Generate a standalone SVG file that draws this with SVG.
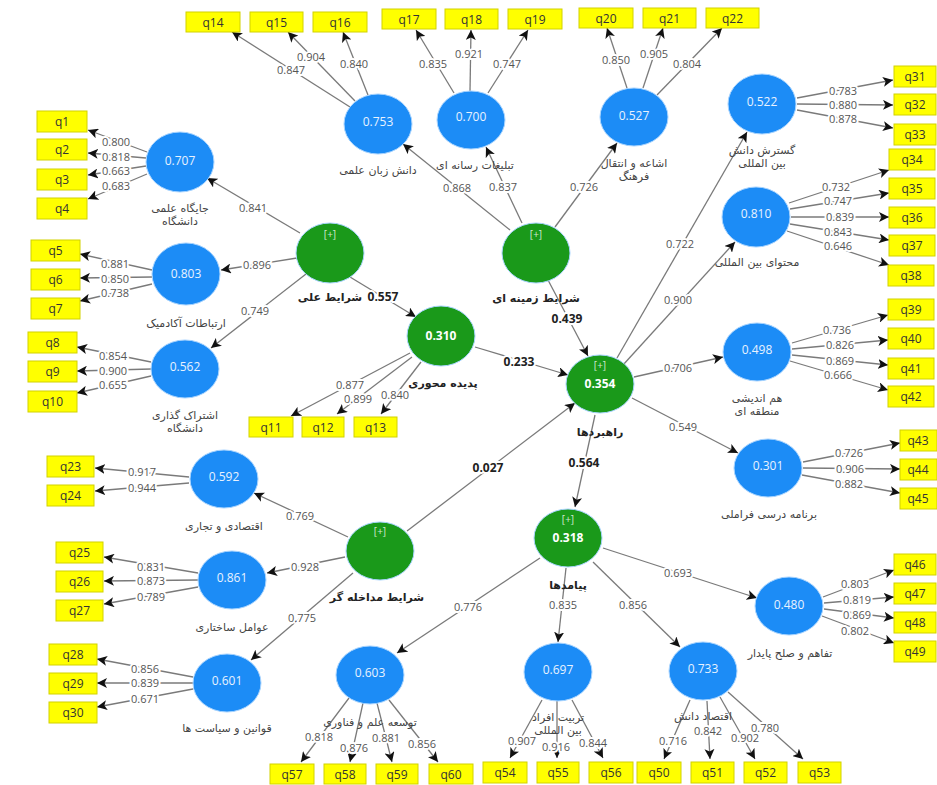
<svg xmlns="http://www.w3.org/2000/svg" width="937" height="785" viewBox="0 0 937 785">
<style>
.bg{fill:#fff}
.box{fill:#ffff00;stroke:#d2d200;stroke-width:1}
.bt{font-family:"Open Sans","DejaVu Sans",sans-serif;font-size:12px;fill:#333;text-anchor:middle;dominant-baseline:central}
.lv{fill:#1c8cf6;stroke:#a8d4ff;stroke-width:1}
.gv{fill:#1a991a;stroke:#a8d4ff;stroke-width:1}
.vt{font-family:"Open Sans","DejaVu Sans",sans-serif;font-size:12px;fill:#e8f2ff;text-anchor:middle;dominant-baseline:central}
.gt{font-family:"Open Sans","DejaVu Sans",sans-serif;font-size:12px;font-weight:bold;fill:#fff;text-anchor:middle;dominant-baseline:central}
.pl{font-family:"Open Sans","DejaVu Sans",sans-serif;font-size:10px;fill:#cfe8cf;text-anchor:middle;dominant-baseline:central}
.nm{font-family:"DejaVu Sans",sans-serif;font-size:11px;fill:#444;text-anchor:middle;dominant-baseline:central}
.nb{font-family:"DejaVu Sans",sans-serif;font-size:11px;font-weight:bold;fill:#222;text-anchor:middle;dominant-baseline:central}
.e{stroke:#7a7a7a;stroke-width:1.3;fill:none;marker-end:url(#ah)}
.lb{font-family:"Open Sans","DejaVu Sans",sans-serif;font-size:11px;fill:#555;text-anchor:middle;dominant-baseline:central;paint-order:stroke;stroke:#fff;stroke-width:4px;stroke-linejoin:round}
.sb{font-family:"Open Sans","DejaVu Sans",sans-serif;font-size:12px;font-weight:bold;fill:#222;text-anchor:middle;dominant-baseline:central;paint-order:stroke;stroke:#fff;stroke-width:4px;stroke-linejoin:round}
</style>
<defs>
<marker id="ah" markerUnits="userSpaceOnUse" markerWidth="11" markerHeight="10" refX="10" refY="5" orient="auto">
<path d="M0,0 L10,5 L0,10 L2.5,5 z" fill="#111"/>
</marker>
</defs>
<rect class="bg" x="0" y="0" width="937" height="785"/>

<g id="connectors">
<!-- structural -->
<line class="e" x1="350" y1="277" x2="416" y2="317"/>
<line class="e" x1="548" y1="280" x2="588" y2="356"/>
<line class="e" x1="475" y1="347" x2="568" y2="375"/>
<line class="e" x1="407" y1="531" x2="575" y2="403"/>
<line class="e" x1="595" y1="415" x2="575" y2="507"/>
<!-- second order -->
<line class="e" x1="300" y1="233" x2="207" y2="178"/>
<line class="e" x1="297" y1="258" x2="221" y2="270"/>
<line class="e" x1="306" y1="274" x2="211" y2="348"/>
<line class="e" x1="510" y1="230" x2="403" y2="144"/>
<line class="e" x1="522" y1="223" x2="486" y2="147"/>
<line class="e" x1="555" y1="227" x2="617" y2="143"/>
<line class="e" x1="617" y1="358" x2="747" y2="132"/>
<line class="e" x1="623" y1="365" x2="735" y2="242"/>
<line class="e" x1="634" y1="377" x2="723" y2="357"/>
<line class="e" x1="632" y1="398" x2="738" y2="453"/>
<line class="e" x1="348" y1="537" x2="254" y2="493"/>
<line class="e" x1="345" y1="557" x2="267" y2="573"/>
<line class="e" x1="353" y1="573" x2="251" y2="660"/>
<line class="e" x1="540" y1="558" x2="397" y2="653"/>
<line class="e" x1="566" y1="568" x2="558" y2="642"/>
<line class="e" x1="593" y1="562" x2="680" y2="647"/>
<line class="e" x1="603" y1="548" x2="757" y2="598"/>
<!-- loadings -->
<line class="e" x1="147" y1="152" x2="88" y2="130"/>
<line class="e" x1="146" y1="158" x2="88" y2="153"/>
<line class="e" x1="146" y1="166" x2="88" y2="175"/>
<line class="e" x1="147" y1="174" x2="88" y2="199"/>
<line class="e" x1="152" y1="270" x2="80" y2="254"/>
<line class="e" x1="152" y1="277" x2="80" y2="278"/>
<line class="e" x1="152" y1="284" x2="80" y2="301"/>
<line class="e" x1="151" y1="362" x2="77" y2="347"/>
<line class="e" x1="151" y1="369" x2="77" y2="371"/>
<line class="e" x1="151" y1="376" x2="77" y2="393"/>
<line class="e" x1="410" y1="353" x2="291" y2="416"/>
<line class="e" x1="412" y1="357" x2="337" y2="414"/>
<line class="e" x1="421" y1="362" x2="381" y2="414"/>
<line class="e" x1="350" y1="107" x2="232" y2="32"/>
<line class="e" x1="355" y1="101" x2="288" y2="32"/>
<line class="e" x1="368" y1="95" x2="343" y2="32"/>
<line class="e" x1="454" y1="93" x2="416" y2="30"/>
<line class="e" x1="470" y1="91" x2="471" y2="30"/>
<line class="e" x1="488" y1="93" x2="528" y2="30"/>
<line class="e" x1="627" y1="88" x2="607" y2="28"/>
<line class="e" x1="643" y1="88" x2="663" y2="28"/>
<line class="e" x1="657" y1="95" x2="722" y2="28"/>
<line class="e" x1="797" y1="98" x2="893" y2="80"/>
<line class="e" x1="797" y1="104" x2="893" y2="105"/>
<line class="e" x1="797" y1="110" x2="893" y2="128"/>
<line class="e" x1="789" y1="203" x2="889" y2="170"/>
<line class="e" x1="790" y1="209" x2="889" y2="193"/>
<line class="e" x1="791" y1="217" x2="889" y2="217"/>
<line class="e" x1="790" y1="224" x2="889" y2="240"/>
<line class="e" x1="787" y1="231" x2="889" y2="265"/>
<line class="e" x1="792" y1="343" x2="888" y2="315"/>
<line class="e" x1="792" y1="349" x2="888" y2="340"/>
<line class="e" x1="792" y1="355" x2="888" y2="365"/>
<line class="e" x1="790" y1="361" x2="888" y2="390"/>
<line class="e" x1="803" y1="462" x2="900" y2="443"/>
<line class="e" x1="803" y1="468" x2="900" y2="469"/>
<line class="e" x1="802" y1="475" x2="900" y2="493"/>
<line class="e" x1="823" y1="597" x2="894" y2="570"/>
<line class="e" x1="824" y1="603" x2="894" y2="597"/>
<line class="e" x1="824" y1="609" x2="894" y2="618"/>
<line class="e" x1="822" y1="616" x2="894" y2="643"/>
<line class="e" x1="690" y1="700" x2="664" y2="759"/>
<line class="e" x1="707" y1="701" x2="710" y2="759"/>
<line class="e" x1="720" y1="697" x2="755" y2="759"/>
<line class="e" x1="728" y1="692" x2="803" y2="759"/>
<line class="e" x1="542" y1="700" x2="510" y2="758"/>
<line class="e" x1="557" y1="701" x2="557" y2="758"/>
<line class="e" x1="572" y1="700" x2="603" y2="758"/>
<line class="e" x1="349" y1="698" x2="301" y2="762"/>
<line class="e" x1="363" y1="703" x2="350" y2="762"/>
<line class="e" x1="377" y1="703" x2="392" y2="762"/>
<line class="e" x1="389" y1="700" x2="438" y2="762"/>
<line class="e" x1="189" y1="477" x2="95" y2="468"/>
<line class="e" x1="189" y1="483" x2="95" y2="491"/>
<line class="e" x1="198" y1="573" x2="104" y2="557"/>
<line class="e" x1="198" y1="580" x2="104" y2="581"/>
<line class="e" x1="198" y1="587" x2="104" y2="604"/>
<line class="e" x1="193" y1="677" x2="97" y2="659"/>
<line class="e" x1="193" y1="683" x2="97" y2="683"/>
<line class="e" x1="193" y1="689" x2="97" y2="707"/>
<!-- labels -->
<text class="sb" x="383" y="296">0.557</text>
<text class="sb" x="567" y="318">0.439</text>
<text class="sb" x="519" y="361">0.233</text>
<text class="sb" x="488" y="467">0.027</text>
<text class="sb" x="584" y="462">0.564</text>
<text class="lb" x="253" y="207">0.841</text>
<text class="lb" x="257" y="264">0.896</text>
<text class="lb" x="255" y="310">0.749</text>
<text class="lb" x="457" y="187">0.868</text>
<text class="lb" x="503" y="186">0.837</text>
<text class="lb" x="584" y="186">0.726</text>
<text class="lb" x="680" y="243">0.722</text>
<text class="lb" x="678" y="299">0.900</text>
<text class="lb" x="678" y="367">0.706</text>
<text class="lb" x="683" y="426">0.549</text>
<text class="lb" x="300" y="515">0.769</text>
<text class="lb" x="305" y="566">0.928</text>
<text class="lb" x="302" y="617">0.775</text>
<text class="lb" x="468" y="606">0.776</text>
<text class="lb" x="563" y="604">0.835</text>
<text class="lb" x="633" y="604">0.856</text>
<text class="lb" x="678" y="572">0.693</text>
<text class="lb" x="116" y="141">0.800</text>
<text class="lb" x="116" y="156">0.818</text>
<text class="lb" x="116" y="170">0.663</text>
<text class="lb" x="116" y="185">0.683</text>
<text class="lb" x="115" y="263">0.881</text>
<text class="lb" x="115" y="278">0.850</text>
<text class="lb" x="115" y="292">0.738</text>
<text class="lb" x="113" y="355">0.854</text>
<text class="lb" x="113" y="370">0.900</text>
<text class="lb" x="113" y="384">0.655</text>
<text class="lb" x="350" y="384">0.877</text>
<text class="lb" x="358" y="398">0.899</text>
<text class="lb" x="395" y="394">0.840</text>
<text class="lb" x="291" y="69">0.847</text>
<text class="lb" x="311" y="56">0.904</text>
<text class="lb" x="354" y="63">0.840</text>
<text class="lb" x="433" y="63">0.835</text>
<text class="lb" x="469" y="53">0.921</text>
<text class="lb" x="507" y="63">0.747</text>
<text class="lb" x="616" y="59">0.850</text>
<text class="lb" x="654" y="53">0.905</text>
<text class="lb" x="687" y="63">0.804</text>
<text class="lb" x="843" y="90">0.783</text>
<text class="lb" x="843" y="104">0.880</text>
<text class="lb" x="843" y="118">0.878</text>
<text class="lb" x="836" y="186">0.732</text>
<text class="lb" x="838" y="200">0.747</text>
<text class="lb" x="840" y="216">0.839</text>
<text class="lb" x="838" y="231">0.843</text>
<text class="lb" x="838" y="245">0.646</text>
<text class="lb" x="837" y="329">0.736</text>
<text class="lb" x="840" y="344">0.826</text>
<text class="lb" x="840" y="360">0.869</text>
<text class="lb" x="838" y="374">0.666</text>
<text class="lb" x="849" y="452">0.726</text>
<text class="lb" x="850" y="468">0.906</text>
<text class="lb" x="849" y="483">0.882</text>
<text class="lb" x="855" y="583">0.803</text>
<text class="lb" x="857" y="599">0.819</text>
<text class="lb" x="857" y="614">0.869</text>
<text class="lb" x="855" y="630">0.802</text>
<text class="lb" x="673" y="740">0.716</text>
<text class="lb" x="708" y="730">0.842</text>
<text class="lb" x="745" y="737">0.902</text>
<text class="lb" x="765" y="727">0.780</text>
<text class="lb" x="522" y="740">0.907</text>
<text class="lb" x="556" y="746">0.916</text>
<text class="lb" x="593" y="742">0.844</text>
<text class="lb" x="319" y="736">0.818</text>
<text class="lb" x="354" y="747">0.876</text>
<text class="lb" x="386" y="737">0.881</text>
<text class="lb" x="422" y="743">0.856</text>
<text class="lb" x="142" y="471">0.917</text>
<text class="lb" x="142" y="487">0.944</text>
<text class="lb" x="151" y="566">0.831</text>
<text class="lb" x="151" y="580">0.873</text>
<text class="lb" x="151" y="596">0.789</text>
<text class="lb" x="145" y="668">0.856</text>
<text class="lb" x="145" y="682">0.839</text>
<text class="lb" x="145" y="698">0.671</text>
</g>

<!-- latent variables -->
<g id="n_elali"><ellipse class="gv" cx="330" cy="253" rx="34" ry="30"/><text class="pl" x="330" y="234">[+]</text><text class="nb" x="330" y="297">شرایط علی</text></g>
<g id="n_zamine"><ellipse class="gv" cx="536" cy="253" rx="34" ry="30"/><text class="pl" x="536" y="234">[+]</text><text class="nb" x="536" y="298">شرایط زمینه ای</text></g>
<g id="n_padide"><ellipse class="gv" cx="441" cy="336" rx="34" ry="30"/><text class="gt" x="441" y="335">0.310</text><text class="nb" x="443" y="383">پدیده محوری</text></g>
<g id="n_rahbord"><ellipse class="gv" cx="600" cy="384" rx="34" ry="29"/><text class="pl" x="600" y="365">[+]</text><text class="gt" x="600" y="383">0.354</text><text class="nb" x="600" y="432">راهبردها</text></g>
<g id="n_payamad"><ellipse class="gv" cx="568" cy="538" rx="34" ry="29"/><text class="pl" x="568" y="519">[+]</text><text class="gt" x="568" y="537">0.318</text><text class="nb" x="568" y="585">پیامدها</text></g>
<g id="n_modakhele"><ellipse class="gv" cx="380" cy="551" rx="34" ry="29"/><text class="pl" x="380" y="531">[+]</text><text class="nb" x="377" y="597">شرایط مداخله گر</text></g>

<g id="n_jaygah"><ellipse class="lv" cx="180" cy="162" rx="34" ry="30"/><text class="vt" x="180" y="160">0.707</text><text class="nm" x="180" y="208">جایگاه علمی</text><text class="nm" x="180" y="221">دانشگاه</text></g>
<g id="n_ertebatat"><ellipse class="lv" cx="186" cy="274" rx="34" ry="31"/><text class="vt" x="186" y="273">0.803</text><text class="nm" x="186" y="323">ارتباطات آکادمیک</text></g>
<g id="n_eshterak"><ellipse class="lv" cx="185" cy="369" rx="34" ry="29"/><text class="vt" x="185" y="366">0.562</text><text class="nm" x="185" y="415">اشتراک گذاری</text><text class="nm" x="185" y="428">دانشگاه</text></g>
<g id="n_zaban"><ellipse class="lv" cx="378" cy="124" rx="34" ry="30"/><text class="vt" x="378" y="121">0.753</text><text class="nm" x="378" y="170">دانش زبان علمی</text></g>
<g id="n_tablighat"><ellipse class="lv" cx="471" cy="120" rx="34" ry="29"/><text class="vt" x="471" y="116">0.700</text><text class="nm" x="475" y="165">تبلیغات رسانه ای</text></g>
<g id="n_eshae"><ellipse class="lv" cx="634" cy="117" rx="34" ry="29"/><text class="vt" x="634" y="115">0.527</text><text class="nm" x="634" y="163">اشاعه و انتقال</text><text class="nm" x="634" y="176">فرهنگ</text></g>
<g id="n_gostaresh"><ellipse class="lv" cx="762" cy="104" rx="34" ry="30"/><text class="vt" x="762" y="101">0.522</text><text class="nm" x="762" y="150">گسترش دانش</text><text class="nm" x="762" y="163">بین المللی</text></g>
<g id="n_mohtava"><ellipse class="lv" cx="756" cy="217" rx="34" ry="30"/><text class="vt" x="756" y="213">0.810</text><text class="nm" x="757" y="262">محتوای بین المللی</text></g>
<g id="n_hamandishi"><ellipse class="lv" cx="757" cy="352" rx="34" ry="29"/><text class="vt" x="757" y="349">0.498</text><text class="nm" x="757" y="398">هم اندیشی</text><text class="nm" x="757" y="411">منطقه ای</text></g>
<g id="n_barname"><ellipse class="lv" cx="768" cy="468" rx="34" ry="29"/><text class="vt" x="768" y="465">0.301</text><text class="nm" x="769" y="514">برنامه درسی فراملی</text></g>
<g id="n_tafahom"><ellipse class="lv" cx="789" cy="606" rx="34" ry="29"/><text class="vt" x="789" y="604">0.480</text><text class="nm" x="790" y="653">تفاهم و صلح پایدار</text></g>
<g id="n_eghtesad"><ellipse class="lv" cx="703" cy="671" rx="34" ry="29"/><text class="vt" x="703" y="668">0.733</text><text class="nm" x="703" y="716">اقتصاد دانش</text></g>
<g id="n_tarbiat"><ellipse class="lv" cx="558" cy="672" rx="34" ry="29"/><text class="vt" x="558" y="669">0.697</text><text class="nm" x="558" y="717">تربیت افراد</text><text class="nm" x="558" y="730">بین المللی</text></g>
<g id="n_tose"><ellipse class="lv" cx="370" cy="675" rx="34" ry="29"/><text class="vt" x="370" y="672">0.603</text><text class="nm" x="370" y="722">توسعه علم و فناوری</text></g>
<g id="n_ghavanin"><ellipse class="lv" cx="227" cy="683" rx="34" ry="29"/><text class="vt" x="227" y="680">0.601</text><text class="nm" x="227" y="728">قوانین و سیاست ها</text></g>
<g id="n_avamel"><ellipse class="lv" cx="232" cy="580" rx="34" ry="29"/><text class="vt" x="232" y="577">0.861</text><text class="nm" x="232" y="627">عوامل ساختاری</text></g>
<g id="n_eghtesadi"><ellipse class="lv" cx="224" cy="479" rx="34" ry="29"/><text class="vt" x="224" y="476">0.592</text><text class="nm" x="224" y="526">اقتصادی و تجاری</text></g>

<!-- indicators -->
<g id="q1"><rect class="box" x="37" y="111" width="50" height="21"/><text class="bt" x="62" y="121.5">q1</text></g>
<g id="q2"><rect class="box" x="37" y="139" width="50" height="21"/><text class="bt" x="62" y="149.5">q2</text></g>
<g id="q3"><rect class="box" x="37" y="169" width="50" height="21"/><text class="bt" x="62" y="179.5">q3</text></g>
<g id="q4"><rect class="box" x="37" y="198" width="50" height="21"/><text class="bt" x="62" y="208.5">q4</text></g>
<g id="q5"><rect class="box" x="31" y="240" width="49" height="21"/><text class="bt" x="55.5" y="250.5">q5</text></g>
<g id="q6"><rect class="box" x="31" y="269" width="49" height="21"/><text class="bt" x="55.5" y="279.5">q6</text></g>
<g id="q7"><rect class="box" x="31" y="298" width="49" height="21"/><text class="bt" x="55.5" y="308.5">q7</text></g>
<g id="q8"><rect class="box" x="28" y="332" width="49" height="21"/><text class="bt" x="52.5" y="342.5">q8</text></g>
<g id="q9"><rect class="box" x="28" y="361" width="49" height="21"/><text class="bt" x="52.5" y="371.5">q9</text></g>
<g id="q10"><rect class="box" x="28" y="391" width="49" height="21"/><text class="bt" x="52.5" y="401.5">q10</text></g>
<g id="q11"><rect class="box" x="249" y="417" width="44" height="20"/><text class="bt" x="271" y="427">q11</text></g>
<g id="q12"><rect class="box" x="302" y="417" width="42" height="20"/><text class="bt" x="323" y="427">q12</text></g>
<g id="q13"><rect class="box" x="354" y="417" width="43" height="20"/><text class="bt" x="375.5" y="427">q13</text></g>
<g id="q14"><rect class="box" x="186" y="12" width="54" height="20"/><text class="bt" x="213" y="22">q14</text></g>
<g id="q15"><rect class="box" x="250" y="12" width="53" height="20"/><text class="bt" x="276.5" y="22">q15</text></g>
<g id="q16"><rect class="box" x="313" y="12" width="54" height="20"/><text class="bt" x="340" y="22">q16</text></g>
<g id="q17"><rect class="box" x="382" y="9" width="54" height="20"/><text class="bt" x="409" y="19">q17</text></g>
<g id="q18"><rect class="box" x="445" y="9" width="53" height="20"/><text class="bt" x="471.5" y="19">q18</text></g>
<g id="q19"><rect class="box" x="508" y="9" width="54" height="20"/><text class="bt" x="535" y="19">q19</text></g>
<g id="q20"><rect class="box" x="579" y="8" width="54" height="20"/><text class="bt" x="606" y="18">q20</text></g>
<g id="q21"><rect class="box" x="643" y="8" width="53" height="20"/><text class="bt" x="669.5" y="18">q21</text></g>
<g id="q22"><rect class="box" x="706" y="8" width="53" height="20"/><text class="bt" x="732.5" y="18">q22</text></g>
<g id="q23"><rect class="box" x="47" y="456" width="47" height="21"/><text class="bt" x="70.5" y="466.5">q23</text></g>
<g id="q24"><rect class="box" x="47" y="485" width="47" height="21"/><text class="bt" x="70.5" y="495.5">q24</text></g>
<g id="q25"><rect class="box" x="56" y="542" width="47" height="21"/><text class="bt" x="79.5" y="552.5">q25</text></g>
<g id="q26"><rect class="box" x="56" y="571" width="47" height="21"/><text class="bt" x="79.5" y="581.5">q26</text></g>
<g id="q27"><rect class="box" x="56" y="600" width="47" height="21"/><text class="bt" x="79.5" y="610.5">q27</text></g>
<g id="q28"><rect class="box" x="49" y="644" width="48" height="21"/><text class="bt" x="73" y="654.5">q28</text></g>
<g id="q29"><rect class="box" x="49" y="673" width="48" height="21"/><text class="bt" x="73" y="683.5">q29</text></g>
<g id="q30"><rect class="box" x="49" y="702" width="48" height="21"/><text class="bt" x="73" y="712.5">q30</text></g>
<g id="q31"><rect class="box" x="894" y="66" width="42" height="21"/><text class="bt" x="915" y="76.5">q31</text></g>
<g id="q32"><rect class="box" x="894" y="94" width="42" height="21"/><text class="bt" x="915" y="104.5">q32</text></g>
<g id="q33"><rect class="box" x="894" y="124" width="42" height="21"/><text class="bt" x="915" y="134.5">q33</text></g>
<g id="q34"><rect class="box" x="889" y="149" width="46" height="21"/><text class="bt" x="912" y="159.5">q34</text></g>
<g id="q35"><rect class="box" x="889" y="178" width="46" height="21"/><text class="bt" x="912" y="188.5">q35</text></g>
<g id="q36"><rect class="box" x="889" y="207" width="46" height="21"/><text class="bt" x="912" y="217.5">q36</text></g>
<g id="q37"><rect class="box" x="889" y="235" width="46" height="21"/><text class="bt" x="912" y="245.5">q37</text></g>
<g id="q38"><rect class="box" x="888" y="265" width="46" height="21"/><text class="bt" x="911" y="275.5">q38</text></g>
<g id="q39"><rect class="box" x="888" y="299" width="46" height="21"/><text class="bt" x="911" y="309.5">q39</text></g>
<g id="q40"><rect class="box" x="888" y="328" width="46" height="21"/><text class="bt" x="911" y="338.5">q40</text></g>
<g id="q41"><rect class="box" x="888" y="358" width="46" height="21"/><text class="bt" x="911" y="368.5">q41</text></g>
<g id="q42"><rect class="box" x="888" y="386" width="46" height="21"/><text class="bt" x="911" y="396.5">q42</text></g>
<g id="q43"><rect class="box" x="900" y="430" width="37" height="21"/><text class="bt" x="918" y="440.5">q43</text></g>
<g id="q44"><rect class="box" x="900" y="459" width="37" height="21"/><text class="bt" x="918" y="469.5">q44</text></g>
<g id="q45"><rect class="box" x="900" y="488" width="37" height="21"/><text class="bt" x="918" y="498.5">q45</text></g>
<g id="q46"><rect class="box" x="894" y="554" width="42" height="21"/><text class="bt" x="915" y="564.5">q46</text></g>
<g id="q47"><rect class="box" x="894" y="583" width="42" height="21"/><text class="bt" x="915" y="593.5">q47</text></g>
<g id="q48"><rect class="box" x="894" y="612" width="42" height="21"/><text class="bt" x="915" y="622.5">q48</text></g>
<g id="q49"><rect class="box" x="894" y="641" width="42" height="21"/><text class="bt" x="915" y="651.5">q49</text></g>
<g id="q50"><rect class="box" x="637" y="762" width="44" height="21"/><text class="bt" x="659" y="772.5">q50</text></g>
<g id="q51"><rect class="box" x="691" y="762" width="43" height="21"/><text class="bt" x="712.5" y="772.5">q51</text></g>
<g id="q52"><rect class="box" x="744" y="762" width="43" height="21"/><text class="bt" x="765.5" y="772.5">q52</text></g>
<g id="q53"><rect class="box" x="798" y="762" width="43" height="21"/><text class="bt" x="819.5" y="772.5">q53</text></g>
<g id="q54"><rect class="box" x="483" y="762" width="44" height="21"/><text class="bt" x="505" y="772.5">q54</text></g>
<g id="q55"><rect class="box" x="537" y="762" width="42" height="21"/><text class="bt" x="558" y="772.5">q55</text></g>
<g id="q56"><rect class="box" x="589" y="762" width="44" height="21"/><text class="bt" x="611" y="772.5">q56</text></g>
<g id="q57"><rect class="box" x="270" y="764" width="44" height="20"/><text class="bt" x="292" y="774">q57</text></g>
<g id="q58"><rect class="box" x="324" y="764" width="42" height="20"/><text class="bt" x="345" y="774">q58</text></g>
<g id="q59"><rect class="box" x="376" y="764" width="42" height="20"/><text class="bt" x="397" y="774">q59</text></g>
<g id="q60"><rect class="box" x="429" y="764" width="44" height="20"/><text class="bt" x="451" y="774">q60</text></g>
</svg>
